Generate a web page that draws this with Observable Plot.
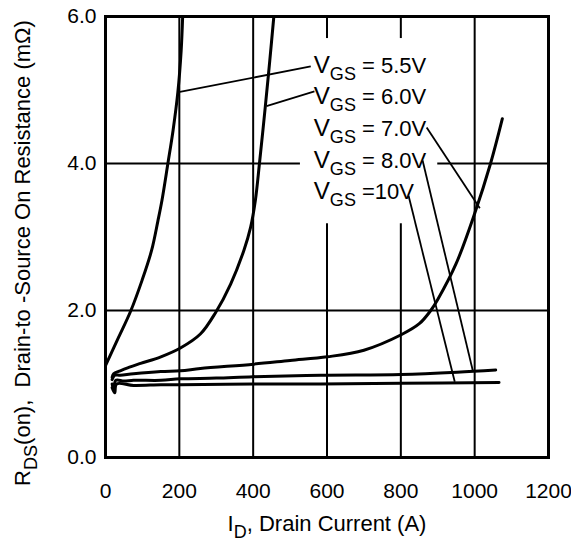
<!DOCTYPE html>
<html><head><meta charset="utf-8">
<script src="https://cdn.jsdelivr.net/npm/d3@7"></script>
<script src="https://cdn.jsdelivr.net/npm/@observablehq/plot@0.6"></script>
<style>body{margin:0;background:#fff;}</style>
</head><body><div id="chart"></div>
<script>
// ---- axes ----
const xTicks = [0, 200, 400, 600, 800, 1000, 1200];
const yTicks = [0, 2, 4, 6];
const xGrid = [200, 400, 600, 800, 1000];
const yGrid = [2, 4];

// ---- series: drain current (A) and RDS(on) (mΩ) ----
const i55 = [0, 35, 68, 99, 125, 142, 153, 169, 183, 196, 205, 209];
const r55 = [1.25, 1.63, 1.99, 2.41, 2.82, 3.22, 3.5, 4.0, 4.45, 4.97, 5.54, 6.0];
const i60 = [18, 22, 40, 60, 95, 150, 203, 257, 298, 339, 375, 393, 406, 417, 433, 445, 456];
const r60 = [1.09, 1.14, 1.18, 1.22, 1.28, 1.37, 1.49, 1.68, 1.97, 2.36, 2.82, 3.13, 3.5, 4.0, 4.78, 5.4, 6.0];
const i70 = [18, 25, 40, 76, 150, 203, 257, 401, 500, 601, 700, 801, 850, 881, 900, 950, 1000, 1043, 1075];
const r70 = [1.06, 1.12, 1.12, 1.14, 1.17, 1.18, 1.21, 1.27, 1.32, 1.37, 1.46, 1.67, 1.82, 2.0, 2.15, 2.64, 3.32, 4.0, 4.61];
const i80 = [18, 22, 28, 50, 76, 150, 203, 300, 400, 583, 800, 952, 1057];
const r80 = [1.0, 0.93, 1.05, 1.04, 1.05, 1.05, 1.07, 1.08, 1.1, 1.12, 1.13, 1.16, 1.19];
const i10 = [18, 25, 30, 76, 150, 203, 400, 583, 800, 1066];
const r10 = [0.95, 0.88, 1.0, 0.98, 0.99, 0.99, 1.0, 1.0, 1.01, 1.02];

// ---- annotations ----
const labelText = ["V_{GS} = 5.5V", "V_{GS} = 6.0V", "V_{GS} = 7.0V", "V_{GS} = 8.0V", "V_{GS} =10V"];
const labelI = [564, 564, 564, 564, 564];
const labelR = [5.33, 4.90, 4.47, 4.04, 3.61];
const leadFromI = [198, 436, 870, 859, 821];
const leadFromR = [4.97, 4.78, 4.49, 4.04, 3.56];
const leadToI = [556, 566, 1014, 995, 946];
const leadToR = [5.32, 4.98, 3.39, 1.18, 1.03];
const labelBoxI = [528, 900];
const labelBoxR = [3.18, 5.70];
const xLabel = "I_{D}, Drain Current (A)";
const yLabel = "R_{DS}(on),  Drain-to -Source On Resistance (mΩ)";

const series = [[i55, r55], [i60, r60], [i70, r70], [i80, r80], [i10, r10]];
const curveData = series.flatMap(([xs, ys], k) => xs.map((x, j) => ({k, x, y: ys[j]})));
const labels = labelText.map((t, j) => ({t, x: labelI[j], y: labelR[j]}));
const leaders = leadFromI.map((x1, j) => ({x1, y1: leadFromR[j], x2: leadToI[j], y2: leadToR[j]}));

const font = "'Liberation Sans', Arial, Helvetica, sans-serif";

const svg = Plot.plot({
  width: 571, height: 542,
  marginLeft: 105, marginRight: 23, marginTop: 16, marginBottom: 85,
  style: {fontFamily: font, fontSize: "21px", background: "white", color: "black"},
  x: {domain: [0, 1200], ticks: xTicks, tickSize: 0, tickPadding: 26, label: null, tickFormat: d => String(d)},
  y: {domain: [0, 6], ticks: yTicks, tickSize: 0, tickPadding: 9, label: null, tickFormat: d => d.toFixed(1)},
  marks: [
    Plot.ruleX(xGrid, {stroke: "black", strokeWidth: 2}),
    Plot.ruleY(yGrid, {stroke: "black", strokeWidth: 2}),
    Plot.rect([0], {x1: () => labelBoxI[0], x2: () => labelBoxI[1], y1: () => labelBoxR[0], y2: () => labelBoxR[1], fill: "white"}),
    Plot.line(curveData, {x: "x", y: "y", z: "k", stroke: "black", strokeWidth: 3, curve: "catmull-rom"}),
    Plot.link(leaders, {x1: "x1", y1: "y1", x2: "x2", y2: "y2", stroke: "black", strokeWidth: 1.8}),
    Plot.text(labels, {x: "x", y: "y", text: "t", textAnchor: "start", fontSize: 22, fill: "black"}),
    Plot.frame({stroke: "black", strokeWidth: 3}),
    Plot.text([xLabel], {frameAnchor: "bottom", text: d => d, dy: 73, fontSize: 22, fill: "black"}),
    Plot.text([yLabel], {frameAnchor: "left", textAnchor: "middle", text: d => d, rotate: -90, dx: -83, dy: 16, fontSize: 22, fill: "black"})
  ]
});
document.getElementById("chart").appendChild(svg);

// render "_{...}" as subscript tspans
d3.select(svg).selectAll("text").each(function() {
  const t = this.textContent;
  const m = t.match(/^(.*?)_\{(.*?)\}(.*)$/);
  if (!m) return;
  const fs = parseFloat(getComputedStyle(this).fontSize) || 20;
  const s = d3.select(this);
  s.text(null);
  const pre = s.append("tspan").text(m[1]);
  if (m[1] === "V") pre.attr("font-size", fs * 1.1);
  s.append("tspan").attr("font-size", fs * 0.82).attr("dy", fs * 0.32).text(m[2]);
  s.append("tspan").attr("dy", -fs * 0.32).text(m[3]);
});
</script></body></html>
